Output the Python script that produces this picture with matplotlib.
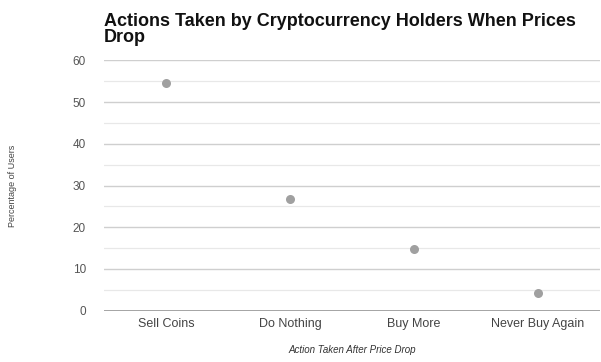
import numpy as np
import matplotlib.pyplot as plt
from matplotlib.ticker import MultipleLocator

actions = ["Sell Coins", "Do Nothing", "Buy More", "Never Buy Again"]
pct_users = [54.6, 26.7, 14.8, 4.3]

plt.rcParams["font.family"] = ["Liberation Sans", "DejaVu Sans"]

fig = plt.figure(figsize=(6.01, 3.62), dpi=100)
ax = fig.add_axes([0.173, 0.142, 0.825, 0.691])

x = np.arange(len(actions))
ax.plot(x, pct_users, "o", ms=6.5, color="#a0a0a0", mec="none", zorder=3)

ax.set_xlim(-0.5, len(actions) - 0.5)
ax.set_ylim(0, 60)
ax.yaxis.set_major_locator(MultipleLocator(10))
ax.yaxis.set_minor_locator(MultipleLocator(5))
ax.set_xticks(x)
ax.set_xticklabels(actions)

ax.grid(axis="y", which="major", color="#cfcfcf", lw=1.0)
ax.grid(axis="y", which="minor", color="#e8e8e8", lw=0.9)
ax.axhline(0, color="#9e9e9e", lw=1.3, zorder=2)
for s in ax.spines.values():
    s.set_visible(False)
ax.tick_params(axis="both", which="both", length=0)
ax.tick_params(axis="y", labelsize=8.5, labelcolor="#555555", pad=13)
ax.tick_params(axis="x", labelsize=9, labelcolor="#444444", pad=5)

ax.set_xlabel("Action Taken After Price Drop", fontsize=7, style="italic",
              color="#333333", labelpad=11)
ax.set_ylabel("Percentage of Users", fontsize=6.5, color="#444444",
              fontstretch="condensed", labelpad=40)

fig.text(0.173, 0.965, "Actions Taken by Cryptocurrency Holders When Prices\nDrop",
         fontsize=13, fontweight="bold", color="#111111", va="top", ha="left",
         linespacing=0.95)

plt.savefig("out.png", dpi=100)
